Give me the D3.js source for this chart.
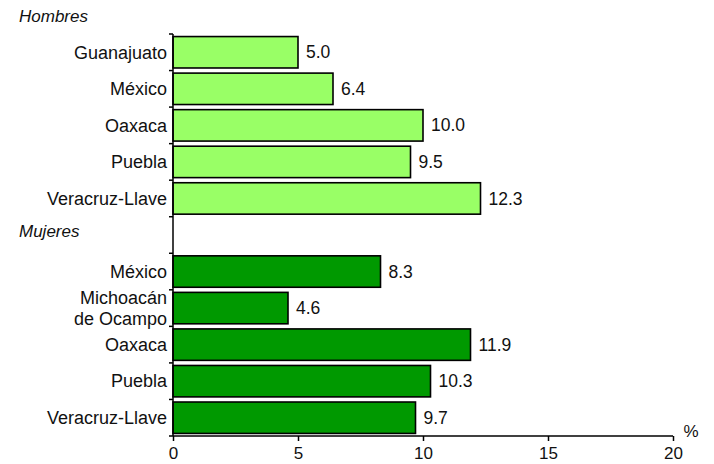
<!DOCTYPE html>
<html>
<head>
<meta charset="utf-8">
<script src="https://cdn.jsdelivr.net/npm/d3@7"></script>
<style>
  html, body { margin: 0; padding: 0; background: #fff; }
  svg { display: block; }
  text { font-family: "Liberation Sans", Arial, sans-serif; fill: #111; }
</style>
</head>
<body>
<svg id="chart" width="714" height="464"></svg>
<script>
const hombresCats = ["Guanajuato", "México", "Oaxaca", "Puebla", "Veracruz-Llave"];
const hombresVals = [5.0, 6.4, 10.0, 9.5, 12.3];
const mujeresCats = ["México", "Michoacán\nde Ocampo", "Oaxaca", "Puebla", "Veracruz-Llave"];
const mujeresVals = [8.3, 4.6, 11.9, 10.3, 9.7];
const groupLabels = ["Hombres", "Mujeres"];
const groupColors = ["#99ff66", "#009900"];
const xTicks = [0, 5, 10, 15, 20];
const unitLabel = "%";

(function () {
const rows = [];
hombresCats.forEach((c, i) => rows.push({ id: "h" + i, cat: c, val: hombresVals[i], g: 0 }));
rows.push({ id: "gap", cat: null, val: null, g: 1 });
mujeresCats.forEach((c, i) => rows.push({ id: "m" + i, cat: c, val: mujeresVals[i], g: 1 }));

const svg = d3.select("#chart");
const mLeft = 173, mRight = 673, mTop = 34, mBottom = 436;

const x = d3.scaleLinear().domain([0, 20]).range([mLeft, mRight]);
const y = d3.scaleBand().domain(rows.map(r => r.id)).range([mTop, mBottom]).paddingInner(0.14).paddingOuter(0.07);

// bars
const dataRows = rows.filter(r => r.val !== null);
svg.append("g").selectAll("rect").data(dataRows).join("rect")
  .attr("x", x(0))
  .attr("y", d => y(d.id))
  .attr("width", d => x(d.val) - x(0))
  .attr("height", y.bandwidth())
  .attr("fill", d => groupColors[d.g])
  .attr("stroke", "#000")
  .attr("stroke-width", 1.6);

// value labels
svg.append("g").selectAll("text").data(dataRows).join("text")
  .attr("x", d => x(d.val) + 8)
  .attr("y", d => y(d.id) + y.bandwidth() / 2)
  .attr("dy", "0.35em")
  .style("font-size", "17.5px")
  .text(d => d3.format(".1f")(d.val));

// y axis line and ticks at slot boundaries
svg.append("line").attr("x1", mLeft).attr("x2", mLeft).attr("y1", mTop).attr("y2", mBottom)
  .attr("stroke", "#000").attr("stroke-width", 1.5);
const bounds = d3.range(rows.length + 1).map(i => mTop + i * (mBottom - mTop) / rows.length);
svg.append("g").selectAll("line").data(bounds).join("line")
  .attr("x1", mLeft - 4).attr("x2", mLeft).attr("y1", d => d).attr("y2", d => d)
  .attr("stroke", "#000").attr("stroke-width", 1.5);

// category labels
const catG = svg.append("g");
dataRows.forEach(d => {
  const lines = d.cat.split("\n");
  const cy = y(d.id) + y.bandwidth() / 2;
  const t = catG.append("text")
    .attr("x", mLeft - 6)
    .attr("text-anchor", "end")
    .style("font-size", "18px");
  lines.forEach((ln, i) => {
    t.append("tspan").attr("x", mLeft - 6)
      .attr("y", cy + (i - (lines.length - 1) / 2) * 21)
      .attr("dy", "0.35em").text(ln);
  });
});

// group labels
svg.append("text").attr("x", 19).attr("y", 22)
  .style("font-size", "17px").style("font-style", "italic").text(groupLabels[0]);
svg.append("text").attr("x", 19).attr("y", y("gap") + 18)
  .style("font-size", "17px").style("font-style", "italic").text(groupLabels[1]);

// x axis
const xAxis = d3.axisBottom(x).tickValues(xTicks).tickSize(5).tickPadding(6).tickFormat(d3.format("d"));
const xg = svg.append("g").attr("transform", `translate(0,${mBottom})`).call(xAxis);
xg.select(".domain").attr("stroke", "#000").attr("stroke-width", 1.6).attr("d", `M${mLeft},0H${mRight}`);
xg.selectAll(".tick line").attr("stroke", "#000").attr("stroke-width", 1.5);
xg.selectAll(".tick text").style("font-size", "17px").style("font-family", "Liberation Sans, Arial, sans-serif").attr("fill", "#111");

svg.append("text").attr("x", 691).attr("y", 437).attr("text-anchor", "middle")
  .style("font-size", "17px").text(unitLabel);
})();
</script>
</body>
</html>
